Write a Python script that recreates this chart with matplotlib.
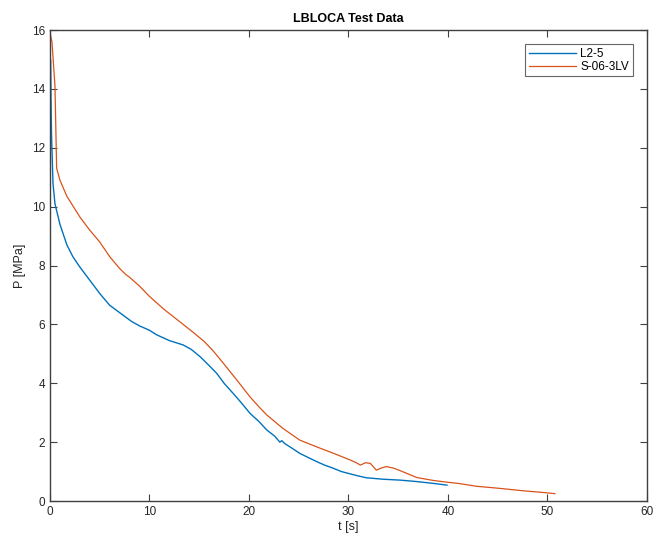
import matplotlib
matplotlib.use("Agg")
import matplotlib.pyplot as plt

plt.rcParams["font.family"] = ["Liberation Sans", "DejaVu Sans"]

# L2-5 pressure history
t_l25 = [0.0, 0.05, 0.15, 0.3, 0.5, 1.0, 1.7, 2.3, 3.0, 4.0, 5.0, 6.0, 7.0,
         8.2, 9.0, 10.0, 10.7, 12.0, 13.4, 14.2, 15.1, 16.0, 16.75, 17.5,
         18.4, 19.2, 20.1, 21.0, 21.8, 22.6, 23.1, 23.3, 23.6, 24.3, 25.1,
         26.0, 26.8, 27.6, 28.5, 29.3, 30.2, 31.0, 31.8, 33.5, 35.2, 36.9,
         38.5, 39.9]
p_l25 = [11.5, 15.0, 12.5, 10.8, 10.1, 9.4, 8.7, 8.3, 7.95, 7.5, 7.05, 6.65,
         6.4, 6.1, 5.95, 5.8, 5.65, 5.45, 5.3, 5.15, 4.9, 4.6, 4.34, 4.0,
         3.66, 3.35, 2.98, 2.7, 2.41, 2.2, 2.0, 2.05, 1.95, 1.8, 1.62, 1.47,
         1.34, 1.22, 1.11, 1.0, 0.92, 0.85, 0.79, 0.74, 0.71, 0.66, 0.6, 0.54]

# S-06-3LV pressure history
t_s06 = [0.0, 0.2, 0.5, 0.67, 1.0, 1.7, 3.0, 4.0, 5.0, 6.0, 7.0, 7.6, 8.0,
         9.0, 10.0, 11.5, 13.2, 14.5, 15.5, 16.4, 17.5, 18.8, 20.1, 21.0,
         21.8, 23.4, 25.1, 26.8, 28.5, 30.2, 30.8, 31.2, 31.7, 32.2, 32.8,
         33.3, 33.8, 34.5, 35.2, 36.0, 36.85, 38.5, 39.9, 41.0, 42.9, 45.2,
         47.5, 49.9, 50.75]
p_s06 = [15.9, 15.6, 14.1, 11.3, 10.9, 10.35, 9.65, 9.2, 8.8, 8.3, 7.9,
         7.7, 7.6, 7.3, 6.95, 6.5, 6.05, 5.7, 5.42, 5.1, 4.65, 4.1, 3.54,
         3.2, 2.92, 2.47, 2.07, 1.84, 1.62, 1.39, 1.3, 1.22, 1.3, 1.28, 1.05,
         1.12, 1.17, 1.12, 1.03, 0.92, 0.8, 0.7, 0.64, 0.6, 0.5, 0.43, 0.35,
         0.28, 0.25]

x_ticks = [0, 10, 20, 30, 40, 50, 60]
y_ticks = [0, 2, 4, 6, 8, 10, 12, 14, 16]

axis_col = "#404040"

fig = plt.figure(figsize=(6.56, 5.42), dpi=100)
ax = fig.add_axes([0.0762, 0.0756, 0.910, 0.869])

ax.plot(t_l25, p_l25, color="#0072BD", lw=1.0, label="L2-5")
ax.plot(t_s06, p_s06, color="#D95319", lw=0.9, label="S-06-3LV")

ax.set_xlim(0, 60)
ax.set_ylim(0, 16)
ax.set_xticks(x_ticks)
ax.set_yticks(y_ticks)
ax.tick_params(direction="in", length=5, width=0.8, colors=axis_col,
               labelcolor="#262626", labelsize=8.5, top=True, right=True,
               labeltop=False, labelright=False)
for s in ax.spines.values():
    s.set_color(axis_col)
    s.set_linewidth(1.0)

ax.set_title("LBLOCA Test Data", fontsize=9, fontweight="bold", pad=6)
ax.set_xlabel("t [s]", fontsize=9, labelpad=2, color="#262626")
ax.set_ylabel("P [MPa]", fontsize=9, labelpad=4, color="#262626")

leg = ax.legend(loc="upper right", fontsize=8.5, frameon=True, fancybox=False,
                handlelength=4.0, handletextpad=0.4, borderpad=0.3,
                labelspacing=0.1, borderaxespad=1.2)
leg.get_frame().set_edgecolor(axis_col)
leg.get_frame().set_linewidth(0.8)

fig.savefig("out.png", dpi=100)
